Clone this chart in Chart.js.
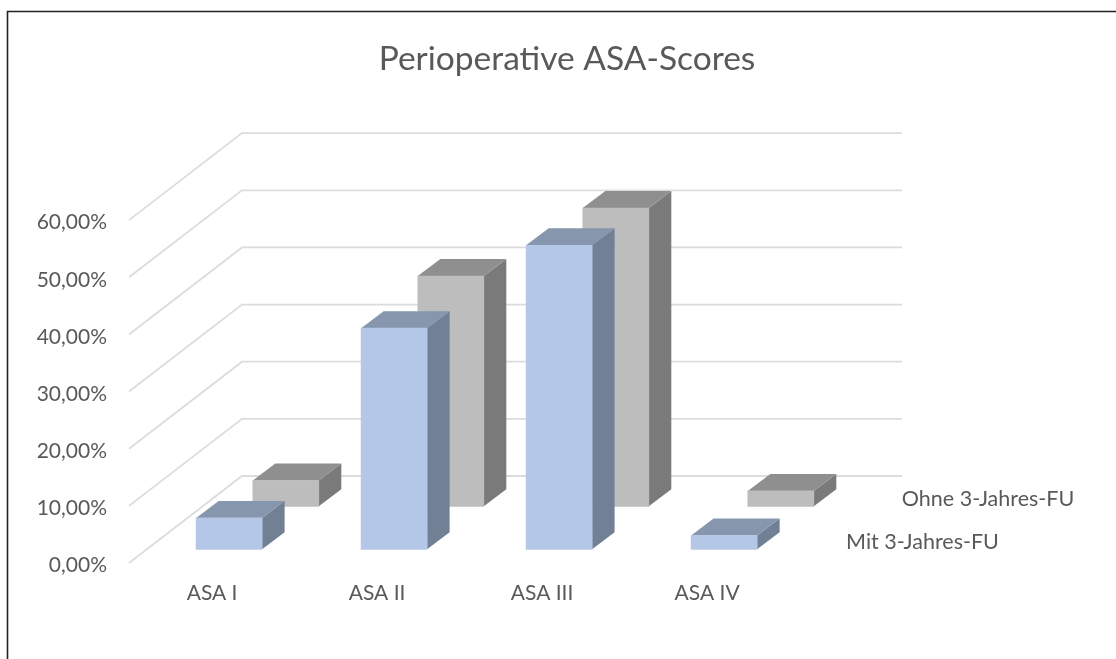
<!DOCTYPE html>
<html>
<head>
<meta charset="utf-8">
<style>html,body{margin:0;padding:0;background:#fff;overflow:hidden}#w{width:1116px;height:659px}</style>
<script src="https://cdn.jsdelivr.net/npm/chart.js@4"></script>
</head>
<body>
<div id="w"><canvas id="c" width="1116" height="659"></canvas></div>
<script>
const chartTitle = 'Perioperative ASA-Scores';
const categories = ['ASA I', 'ASA II', 'ASA III', 'ASA IV'];
const seriesNames = ['Mit 3-Jahres-FU', 'Ohne 3-Jahres-FU'];
const mitValues = [5.5, 38.7, 53.2, 2.4];
const ohneValues = [4.5, 40.3, 52.2, 2.7];
const yTicks = [0, 10, 20, 30, 40, 50, 60];

const FONT = 'Lato, Carlito, Calibri, sans-serif';
const TEXT = '#595959';
const PX_PER_UNIT_Y = 5.717, PX_PER_CAT = 165;
const AREA = {left: 129, top: 133, bottom: 563, right: 1116};
// pixel position of value 0 on each drawing plane
const scaleY = zero => ({min: (AREA.bottom - zero) / -PX_PER_UNIT_Y, max: (zero - AREA.top) / PX_PER_UNIT_Y});
const scaleX = zero => ({min: (AREA.left - zero) / PX_PER_CAT, max: (AREA.right - zero) / PX_PER_CAT});
const hidden = {display: false, grid: {display: false}};
const faces = [
  {face: '#B4C7E7', top: '#8696AD', side: '#728095'},
  {face: '#BDBDBD', top: '#8F8F8F', side: '#7A7A7A'}
];
const seriesLabelPos = [{dx: 122, y: 542.5}, {dx: 121, y: 499.5}];

const box3d = {
  id: 'box3d',
  beforeDraw(chart) {
    const c = chart.ctx;
    c.save();
    c.strokeStyle = '#222222'; c.lineWidth = 1.6;
    c.beginPath(); c.moveTo(7.5, chart.height); c.lineTo(7.5, 11.5); c.lineTo(chart.width, 11.5); c.stroke();
    c.restore();
  },
  beforeDatasetsDraw(chart) {
    const c = chart.ctx, y = chart.scales.y, x = chart.scales.xFront;
    const a = chart.chartArea, right = x.getPixelForValue(4.078);
    c.save();
    c.strokeStyle = '#DCDCDC'; c.lineWidth = 1.8; c.lineJoin = 'miter';
    yTicks.forEach(v => {
      const p = y.getPixelForValue(v);
      c.beginPath(); c.moveTo(a.left, p); c.lineTo(a.left + 113, p - 87); c.lineTo(right, p - 87); c.stroke();
    });
    c.restore();
  },
  beforeDatasetDraw(chart, args) {
    const c = chart.ctx, col = faces[args.index], dx = 22.5, dy = 17;
    c.save();
    args.meta.data.forEach(b => {
      const l = b.x - b.width / 2, r = b.x + b.width / 2;
      c.fillStyle = col.side;
      c.beginPath(); c.moveTo(r, b.y); c.lineTo(r + dx, b.y - dy); c.lineTo(r + dx, b.base - dy); c.lineTo(r, b.base); c.closePath(); c.fill();
      c.fillStyle = col.top;
      c.beginPath(); c.moveTo(l, b.y); c.lineTo(l + dx, b.y - dy); c.lineTo(r + dx, b.y - dy); c.lineTo(r, b.y); c.closePath(); c.fill();
    });
    c.restore();
  },
  afterDatasetsDraw(chart) {
    const c = chart.ctx;
    c.save();
    c.font = '21.5px ' + FONT; c.fillStyle = TEXT; c.textAlign = 'left'; c.textBaseline = 'middle';
    chart.data.datasets.forEach((d, i) => {
      const last = chart.getDatasetMeta(i).data[categories.length - 1];
      c.fillText(d.label, last.x + seriesLabelPos[i].dx, seriesLabelPos[i].y);
    });
    c.restore();
  }
};

new Chart(document.getElementById('c'), {
  type: 'bar',
  plugins: [box3d],
  data: {
    datasets: [
      {label: seriesNames[0], data: mitValues.map((v, i) => ({x: i, y: v})), xAxisID: 'xFront', yAxisID: 'yFront',
       backgroundColor: faces[0].face, barThickness: 66, grouped: false, clip: false},
      {label: seriesNames[1], data: ohneValues.map((v, i) => ({x: i, y: v})), xAxisID: 'xBack', yAxisID: 'yBack',
       backgroundColor: faces[1].face, barThickness: 66, grouped: false, clip: false}
    ]
  },
  options: {
    responsive: false,
    animation: false,
    layout: {padding: {left: 18, right: 0, top: 0, bottom: 0}},
    plugins: {
      legend: {display: false},
      tooltip: {enabled: false},
      title: {display: true, text: chartTitle, color: TEXT,
        font: {family: FONT, size: 33.5, weight: 'normal'}, padding: {top: 39, bottom: 54}}
    },
    scales: {
      y: {
        type: 'linear', position: 'left', ...scaleY(563),
        afterFit: s => { s.width = AREA.left - 18; },
        afterBuildTicks: s => { s.ticks = yTicks.map(value => ({value})); },
        grid: {display: false, drawTicks: false}, border: {display: false},
        ticks: {color: TEXT, font: {family: FONT, size: 21}, padding: 22, labelOffset: 2.5,
          callback: v => v.toFixed(2).replace('.', ',') + '%'}
      },
      yFront: {...hidden, type: 'linear', ...scaleY(549.3)},
      yBack: {...hidden, type: 'linear', ...scaleY(506.3)},
      xFront: {
        type: 'linear', position: 'bottom', offset: false, ...scaleX(229.1),
        afterFit: s => { s.height = 659 - AREA.bottom; },
        afterBuildTicks: s => { s.ticks = categories.map((_, value) => ({value})); },
        grid: {display: false, drawTicks: false}, border: {display: false},
        ticks: {color: TEXT, font: {family: FONT, size: 21}, padding: 18, labelOffset: -17, maxRotation: 0, autoSkip: false,
          callback: v => categories[v]}
      },
      xBack: {...hidden, type: 'linear', offset: false, ...scaleX(285.8)}
    }
  }
});
</script>
</body>
</html>
